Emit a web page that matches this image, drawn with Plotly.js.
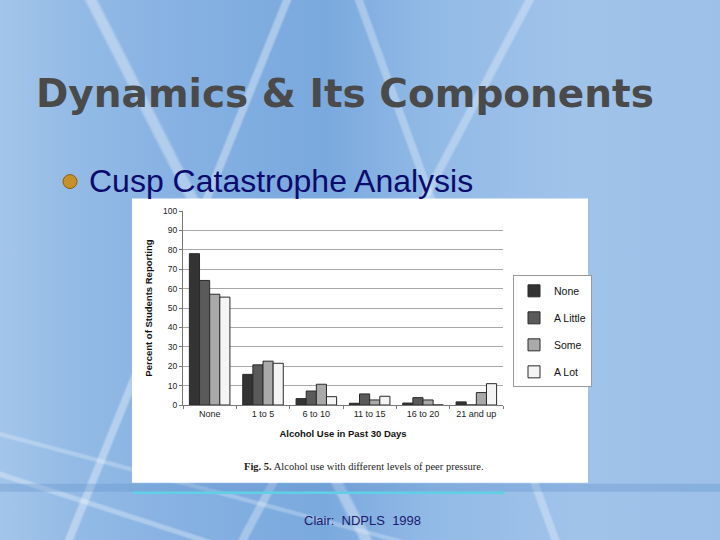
<!DOCTYPE html>
<html><head><meta charset="utf-8">
<script src="https://cdn.plot.ly/plotly-3.0.1.min.js"></script>
<style>
html,body{margin:0;padding:0;}
body{width:720px;height:540px;overflow:hidden;
background:
 linear-gradient(63deg, transparent 36%, rgba(255,255,255,0.35) 36.4%, rgba(255,255,255,0.35) 37.2%, transparent 37.6%),
 linear-gradient(112deg, transparent 30%, rgba(255,255,255,0.35) 30.3%, rgba(255,255,255,0.35) 30.9%, transparent 31.2%),
 linear-gradient(118deg, transparent 52%, rgba(255,255,255,0.3) 52.3%, rgba(255,255,255,0.3) 52.9%, transparent 53.2%),
 linear-gradient(70deg, transparent 60%, rgba(255,255,255,0.3) 60.3%, rgba(255,255,255,0.3) 60.9%, transparent 61.2%),
 linear-gradient(18deg, transparent 8%, rgba(255,255,255,0.3) 8.3%, rgba(255,255,255,0.3) 8.7%, transparent 9%),
 linear-gradient(15deg, transparent 14%, rgba(255,255,255,0.25) 14.3%, rgba(255,255,255,0.25) 14.6%, transparent 14.9%),
 linear-gradient(90deg, #a3c5ea 0%, #94bbe6 10%, #86b1e2 25%, #7aa9de 45%, #92bae6 60%, #a0c3ea 80%, #9cc0e8 100%);
}
#chart{width:720px;height:540px;}
</style></head>
<body><div id="chart"></div>
<script>
// ---- data ----
const categories = ["None", "1 to 5", "6 to 10", "11 to 15", "16 to 20", "21 and up"];
const seriesNames = ["None", "A Little", "Some", "A Lot"];
const noneVals    = [78, 15.8, 3.3, 0.9, 1.0, 1.6];
const littleVals  = [64.2, 20.7, 7.2, 5.7, 3.8, 0];
const someVals    = [57.1, 22.6, 10.7, 2.6, 2.6, 6.4];
const lotVals     = [55.6, 21.5, 4.3, 4.5, 0, 11];
const yTicks = [0,10,20,30,40,50,60,70,80,90,100];

// ---- layout helpers (pixel -> paper) ----
const L = 183, R = 503, T = 210.5, B = 405;
const X = p => (p - L) / (R - L);
const Y = p => (B - p) / (B - T);

const colors = ["#333333", "#5a5a5a", "#a9a9a9", "#f4f4f4"];
const values = [noneVals, littleVals, someVals, lotVals];
const traces = seriesNames.map((n, i) => ({
  type: "bar", name: n, x: categories, y: values[i],
  legendgroup: "g" + i,
  marker: {color: colors[i], line: {color: "#2a2a2a", width: 1}}
}));

const layout = {
  width: 720, height: 540,
  margin: {l: L, r: 720 - R, t: T, b: 540 - B, pad: 0},
  paper_bgcolor: "rgba(0,0,0,0)", plot_bgcolor: "rgba(0,0,0,0)",
  barmode: "group", bargap: 0.24, bargroupgap: 0,
  font: {family: "Liberation Sans, Arial, sans-serif", color: "#222"},
  xaxis: {
    type: "category", showgrid: false, showline: true, linecolor: "#777", linewidth: 1,
    ticks: "outside", tickson: "boundaries", ticklen: 3, tickcolor: "#777",
    tickfont: {size: 9, color: "#222"},
    title: {text: "<b>Alcohol Use in Past 30 Days</b>", font: {size: 9.5, color: "#111"}, standoff: 12}
  },
  yaxis: {
    range: [0, 100], tickvals: yTicks, showgrid: true, gridcolor: "#a8a8a8", gridwidth: 1,
    showline: true, linecolor: "#777", ticks: "outside", ticklen: 3, tickcolor: "#777",
    tickfont: {size: 8.5, color: "#222"}, zeroline: false,
    title: {text: "<b>Percent of Students Reporting</b>", font: {size: 9.5, color: "#111"}, standoff: 8}
  },
  legend: {
    x: X(513), y: Y(275), xanchor: "left", yanchor: "top",
    bgcolor: "#ffffff", bordercolor: "#999", borderwidth: 1,
    font: {size: 10.5, color: "#111"}, tracegroupgap: 8, itemwidth: 30
  },
  shapes: [
    // white picture panel
    {type: "rect", xref: "paper", yref: "paper", x0: X(132), x1: X(588), y0: Y(483), y1: Y(198),
     fillcolor: "#ffffff", line: {width: 0}, layer: "below"},
    // bottom strip
    {type: "rect", xref: "paper", yref: "paper", x0: X(0), x1: X(720), y0: Y(492), y1: Y(484),
     fillcolor: "rgba(90,140,200,0.3)", line: {width: 0}, layer: "below"},
    {type: "line", xref: "paper", yref: "paper", x0: X(133), x1: X(505), y0: Y(493), y1: Y(493),
     line: {color: "#5fd0e6", width: 2.5}, layer: "below"},
    // bullet
    {type: "circle", xref: "paper", yref: "paper", x0: X(63), x1: X(77), y0: Y(188), y1: Y(174),
     fillcolor: "#c8902a", line: {color: "#8a5e14", width: 1}}
  ],
  annotations: [
    {text: "<b>Dynamics &amp; Its Components</b>", xref: "paper", yref: "paper", x: X(34), y: Y(93),
     xanchor: "left", yanchor: "middle", showarrow: false,
     font: {family: "DejaVu Sans, sans-serif", size: 39, color: "#4a4a4a"}},
    {text: "Cusp Catastrophe Analysis", xref: "paper", yref: "paper", x: X(87), y: Y(180),
     xanchor: "left", yanchor: "middle", showarrow: false,
     font: {family: "Liberation Sans, sans-serif", size: 32, color: "#0b0b6e"}},
    {text: "<b>Fig. 5.</b> Alcohol use with different levels of peer pressure.", xref: "paper", yref: "paper",
     x: X(364), y: Y(467), xanchor: "center", yanchor: "middle", showarrow: false,
     font: {family: "Liberation Serif, serif", size: 10.5, color: "#222"}},
    {text: "Clair:  NDPLS  1998", xref: "paper", yref: "paper", x: X(362), y: Y(521),
     xanchor: "center", yanchor: "middle", showarrow: false,
     font: {family: "Liberation Sans, sans-serif", size: 13, color: "#1a1a6e"}}
  ]
};
Plotly.newPlot("chart", traces, layout, {staticPlot: true, displayModeBar: false});
</script></body></html>
